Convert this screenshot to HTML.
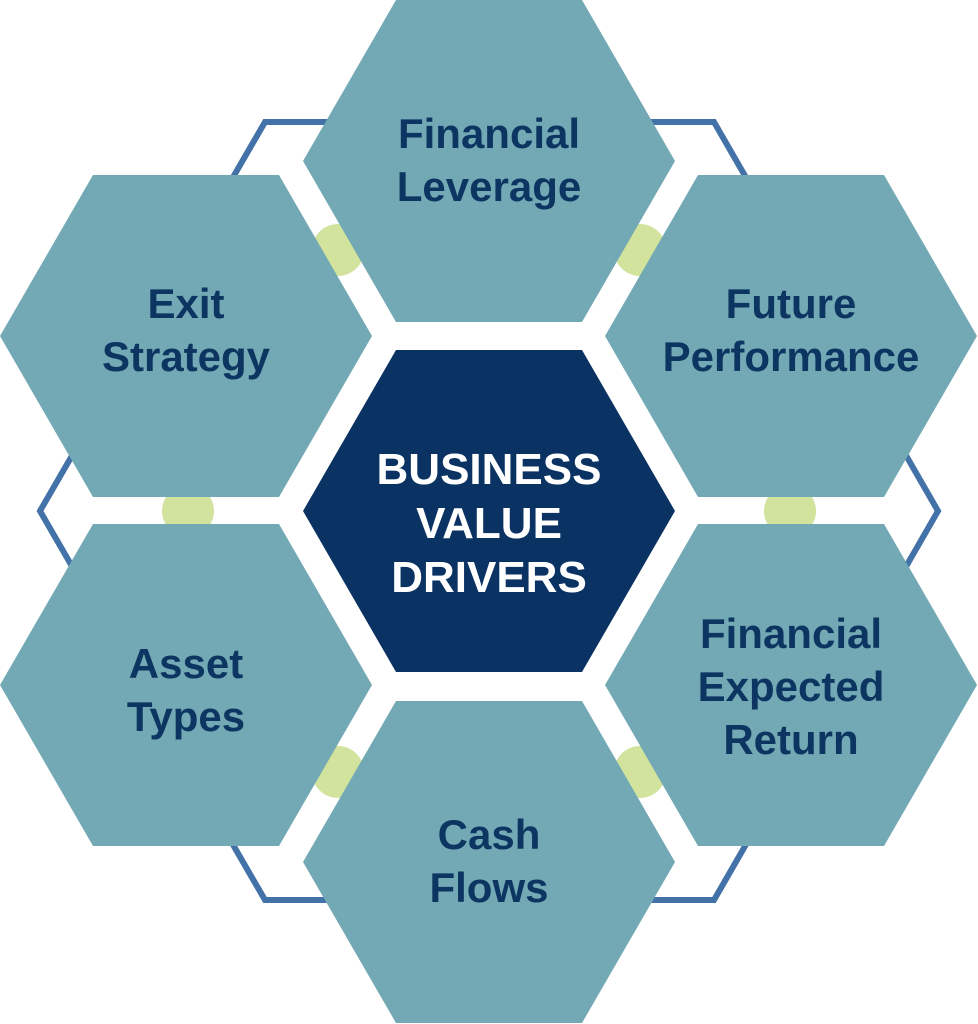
<!DOCTYPE html>
<html><head><meta charset="utf-8"><style>
html,body{margin:0;padding:0;background:#fff;}
svg{display:block}
text{font-family:"Liberation Sans",sans-serif;font-weight:bold;text-anchor:middle;}
</style></head><body>
<svg width="978" height="1024" viewBox="0 0 978 1024">
<defs>
<polygon id="h" points="-186,0 -93,-161 93,-161 186,0 93,161 -93,161"/>
</defs>
<polygon points="40,511 265,122 714,122 938,511 714,900 265,900" fill="none" stroke="#4372a8" stroke-width="6" stroke-linejoin="miter"/>
<g fill="#d1e39c">
<circle cx="338" cy="250" r="26"/>
<circle cx="640" cy="250" r="26"/>
<circle cx="188" cy="511" r="26"/>
<circle cx="790" cy="511" r="26"/>
<circle cx="338" cy="772" r="26"/>
<circle cx="640" cy="772" r="26"/>
</g>
<g fill="#73a9b4">
<use href="#h" x="489" y="161"/>
<use href="#h" x="186" y="336"/>
<use href="#h" x="791" y="336"/>
<use href="#h" x="186" y="685"/>
<use href="#h" x="791" y="685"/>
<use href="#h" x="489" y="862"/>
<use href="#h" x="489" y="511" fill="#0a3263"/>
</g>
<g fill="#0d3561" font-size="42">
<text x="489" y="148">Financial</text><text x="489" y="201">Leverage</text>
<text x="186" y="318">Exit</text><text x="186" y="371">Strategy</text>
<text x="791" y="318">Future</text><text x="791" y="371">Performance</text>
<text x="186" y="678">Asset</text><text x="186" y="731">Types</text>
<text x="791" y="648">Financial</text><text x="791" y="701">Expected</text><text x="791" y="754">Return</text>
<text x="489" y="849">Cash</text><text x="489" y="902">Flows</text>
</g>
<g fill="#fff" font-size="44">
<text x="489" y="484">BUSINESS</text><text x="489" y="538">VALUE</text><text x="489" y="592">DRIVERS</text>
</g>
</svg>
</body></html>
